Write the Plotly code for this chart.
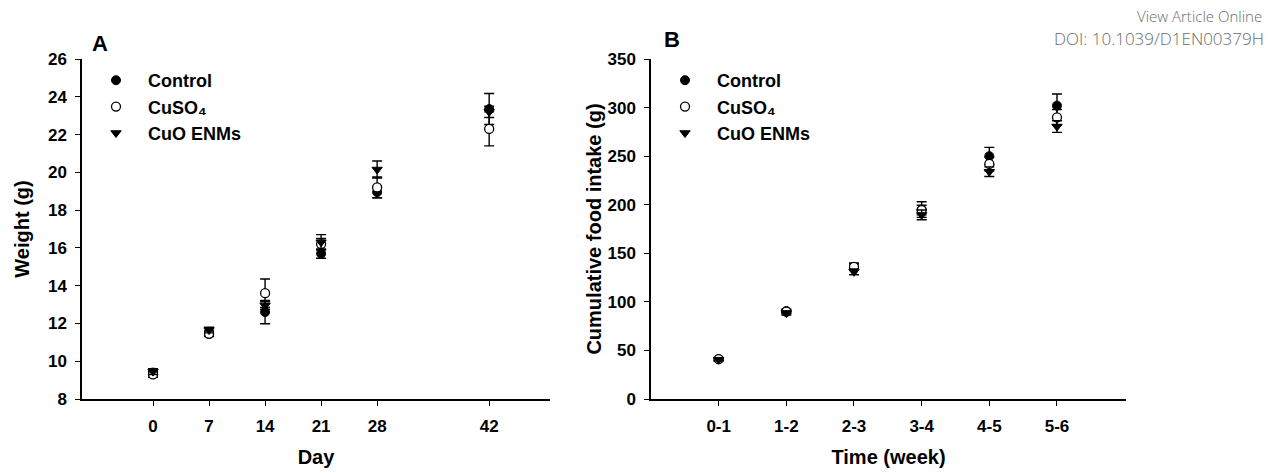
import plotly.graph_objects as go

# ---------------- data ----------------
days = [0, 7, 14, 21, 28, 42]
control_w = [9.4, 11.55, 12.6, 15.7, 18.95, 23.35]
control_w_err = [0.15, 0.2, 0.62, 0.25, 0.3, 0.82]
cuso4_w = [9.3, 11.45, 13.6, 16.2, 19.2, 22.3]
cuso4_w_err = [0.15, 0.15, 0.75, 0.3, 0.55, 0.9]
cuo_w = [9.45, 11.65, 12.95, 16.3, 20.15, 23.2]
cuo_w_err = [0.15, 0.15, 0.2, 0.4, 0.45, 0.3]

weeks = ["0-1", "1-2", "2-3", "3-4", "4-5", "5-6"]
control_f = [41, 90.5, 134, 195, 250, 302]
control_f_err = [1.5, 2, 6, 8, 9, 12]
cuso4_f = [41, 90, 136, 194.5, 242, 290]
cuso4_f_err = [1.5, 2, 3, 5, 7, 8]
cuo_f = [40.5, 88.5, 131, 189.5, 234, 280.5]
cuo_f_err = [1.5, 2, 3, 5, 5, 6]

series_names = ["Control", "CuSO\u2084", "CuO ENMs"]
day_ticks = [0, 7, 14, 21, 28, 42]

# ---------------- styling ----------------
W, H = 1270, 473
FONT = "Liberation Sans, Arial, sans-serif"
BLACK = "#000000"

def px_x(p):
    return p / W

def px_y(p):
    return 1 - p / H

styles = [
    dict(symbol="circle", color=BLACK, line=dict(color=BLACK, width=1)),
    dict(symbol="circle", color="#ffffff", line=dict(color=BLACK, width=1.3)),
    dict(symbol="triangle-down", color=BLACK, line=dict(color=BLACK, width=1)),
]

fig = go.Figure()

def add_series(x, ys, errs, xaxis, yaxis, legend):
    for i, (y, e) in enumerate(zip(ys, errs)):
        st = styles[i]
        fig.add_trace(go.Scatter(
            x=x, y=y, mode="markers", name=series_names[i],
            xaxis=xaxis, yaxis=yaxis, legend=legend,
            marker=dict(symbol=st["symbol"], size=9, color=st["color"], line=st["line"]),
            error_y=dict(type="data", array=e, visible=True, color=BLACK,
                         thickness=1.4, width=5),
            cliponaxis=False,
        ))

add_series(days, [control_w, cuso4_w, cuo_w], [control_w_err, cuso4_w_err, cuo_w_err],
           "x", "y", "legend")
add_series(weeks, [control_f, cuso4_f, cuo_f], [control_f_err, cuso4_f_err, cuo_f_err],
           "x2", "y2", "legend2")

tickfont = dict(family=FONT, size=17, color=BLACK, weight="bold")
titlefont = dict(family=FONT, size=20, color=BLACK, weight="bold")
axis_common = dict(
    showline=True, linecolor=BLACK, linewidth=1.5, mirror=False,
    ticks="outside", ticklen=5, tickwidth=1.4, tickcolor=BLACK,
    showgrid=False, zeroline=False, tickfont=tickfont, automargin=False,
)

ydom = [px_y(399), px_y(59)]

legend_common = dict(
    font=dict(family=FONT, size=18, color=BLACK, weight="bold"),
    bgcolor="rgba(0,0,0,0)", borderwidth=0, itemwidth=54,
    xanchor="left", yanchor="top", tracegroupgap=0,
    itemclick=False, itemdoubleclick=False,
)

fig.update_layout(
    width=W, height=H,
    margin=dict(l=0, r=0, t=0, b=0, autoexpand=False),
    paper_bgcolor="white", plot_bgcolor="white",
    showlegend=True,
    xaxis=dict(domain=[px_x(82), px_x(550)], range=[-8.875, 49.6],
               tickmode="array", tickvals=day_ticks, ticklabelstandoff=6,
               title=dict(text="Day", font=titlefont, standoff=15),
               anchor="y", **axis_common),
    yaxis=dict(domain=ydom, range=[8, 26], dtick=2, ticklabelstandoff=5,
               title=dict(text="Weight (g)", font=titlefont, standoff=13),
               anchor="x", **axis_common),
    xaxis2=dict(domain=[px_x(651), px_x(1126)], range=[-1.0, 6.02], type="category",
                ticklabelstandoff=6,
                title=dict(text="Time (week)", font=titlefont, standoff=15),
                anchor="y2", **axis_common),
    yaxis2=dict(domain=ydom, range=[0, 350], dtick=50, ticklabelstandoff=5,
                title=dict(text="Cumulative food intake (g)", font=titlefont, standoff=0),
                anchor="x2", **axis_common),
    legend=dict(x=px_x(84), y=px_y(62), **legend_common),
    legend2=dict(x=px_x(653), y=px_y(62), **legend_common),
    annotations=[
        dict(text="A", x=px_x(100), y=px_y(44), xref="paper", yref="paper",
             xanchor="center", yanchor="middle", showarrow=False,
             font=dict(family=FONT, size=22, color=BLACK, weight="bold")),
        dict(text="B", x=px_x(672), y=px_y(40), xref="paper", yref="paper",
             xanchor="center", yanchor="middle", showarrow=False,
             font=dict(family=FONT, size=22, color=BLACK, weight="bold")),
        dict(text="View Article Online", x=px_x(1264), y=px_y(16), xref="paper", yref="paper",
             xanchor="right", yanchor="middle", showarrow=False,
             font=dict(family="Open Sans, sans-serif", size=15, color="#6b6b6b", weight=300)),
        dict(text="DOI: 10.1039/D1EN00379H", x=px_x(1266), y=px_y(38), xref="paper", yref="paper",
             xanchor="right", yanchor="middle", showarrow=False,
             font=dict(family="Open Sans, sans-serif", size=17, color="#6b6b6b", weight=300)),
    ],
)

fig.write_html("out.html", config={"displayModeBar": False},
               post_script="document.body.style.margin='0';")
